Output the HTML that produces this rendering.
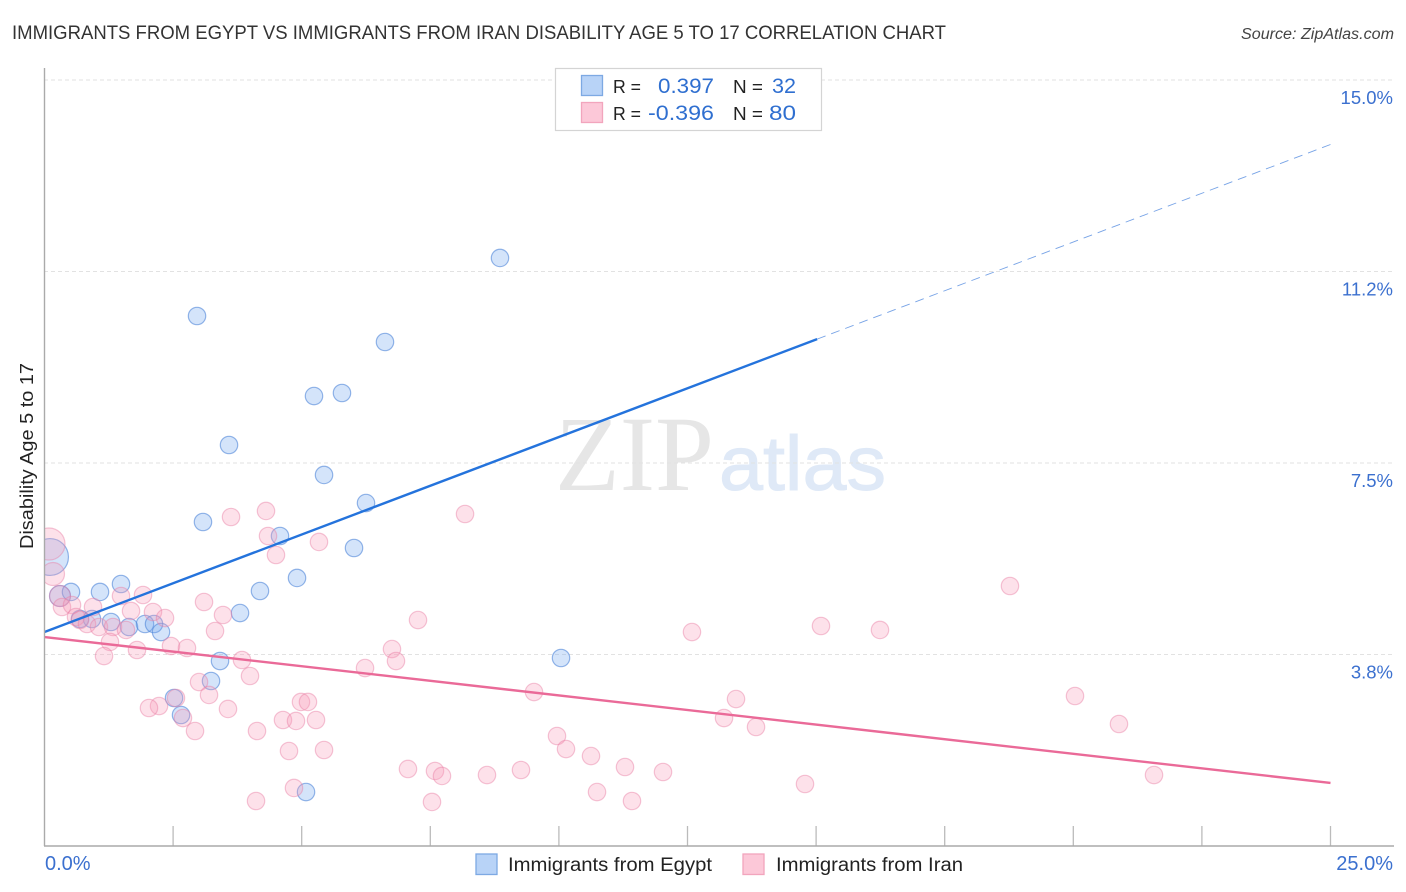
<!DOCTYPE html>
<html>
<head>
<meta charset="utf-8">
<title>Immigrants from Egypt vs Immigrants from Iran Disability Age 5 to 17 Correlation Chart</title>
<style>
html,body{margin:0;padding:0;background:#fff;width:1406px;height:892px;overflow:hidden}
svg{display:block}
text{font-family:"Liberation Sans",sans-serif}
</style>
</head>
<body>
<svg id="chart" xmlns="http://www.w3.org/2000/svg" width="1406" height="892" viewBox="0 0 1406 892">
  <defs><clipPath id="plot-clip"><rect x="44.5" y="60" width="1350" height="786"/></clipPath></defs>
  <rect x="0" y="0" width="1406" height="892" fill="#fff"/>
  <text x="12" y="39" font-size="19" fill="#333" textLength="934" lengthAdjust="spacingAndGlyphs">IMMIGRANTS FROM EGYPT VS IMMIGRANTS FROM IRAN DISABILITY AGE 5 TO 17 CORRELATION CHART</text>
  <text x="1241" y="39" font-size="15.5" font-style="italic" fill="#444" textLength="153" lengthAdjust="spacingAndGlyphs">Source: ZipAtlas.com</text>
  <text x="555" y="490" font-size="107" fill="#e6e6e6" style="font-family:'Liberation Serif',serif" textLength="159" lengthAdjust="spacingAndGlyphs">ZIP</text>
  <text x="719" y="490" font-size="77" fill="#dfe9f7" stroke="#dfe9f7" stroke-width="1" textLength="167" lengthAdjust="spacingAndGlyphs">atlas</text>
  <g id="grid"></g>
  <g id="ticks"></g>
  <g id="pts" clip-path="url(#plot-clip)"></g>
  <rect x="0" y="500" width="44" height="120" fill="#fff"/>
  <g id="trends"></g>
  <line x1="44.5" y1="68" x2="44.5" y2="846" stroke="#aaa" stroke-width="1.4"/>
  <line x1="44" y1="846" x2="1394" y2="846" stroke="#aaa" stroke-width="1.4"/>
  <g id="ylabels"></g>
  <g id="xlabels"></g>
  <text transform="translate(33,456) rotate(-90)" font-size="18.5" fill="#222" text-anchor="middle" textLength="186" lengthAdjust="spacingAndGlyphs">Disability Age 5 to 17</text>

  <g>
    <rect x="555.5" y="68.5" width="266" height="62" fill="#fff" stroke="#d4d4d4" stroke-width="1.2"/>
    <rect x="581.5" y="75.5" width="21" height="20" fill="#b8d3f7" stroke="#7da9e3" stroke-width="1.3"/>
    <rect x="581.5" y="102.5" width="21" height="20" fill="#fcc8d8" stroke="#f2a5bd" stroke-width="1.3"/>
    <text x="613" y="93" font-size="18.5" fill="#222" textLength="28" lengthAdjust="spacingAndGlyphs">R =</text>
    <text x="658" y="93" font-size="21" fill="#2f6fd0" textLength="56" lengthAdjust="spacingAndGlyphs">0.397</text>
    <text x="733" y="93" font-size="18.5" fill="#222" textLength="30" lengthAdjust="spacingAndGlyphs">N =</text>
    <text x="772" y="93" font-size="21" fill="#2f6fd0" textLength="24" lengthAdjust="spacingAndGlyphs">32</text>
    <text x="613" y="120" font-size="18.5" fill="#222" textLength="28" lengthAdjust="spacingAndGlyphs">R =</text>
    <text x="648" y="120" font-size="21" fill="#2f6fd0" textLength="66" lengthAdjust="spacingAndGlyphs">-0.396</text>
    <text x="733" y="120" font-size="18.5" fill="#222" textLength="30" lengthAdjust="spacingAndGlyphs">N =</text>
    <text x="769" y="120" font-size="21" fill="#2f6fd0" textLength="27" lengthAdjust="spacingAndGlyphs">80</text>
  </g>

  <g>
    <rect x="476" y="854" width="21" height="20.5" fill="#b8d3f7" stroke="#7da9e3" stroke-width="1.3"/>
    <text x="508" y="871" font-size="19" fill="#222" textLength="204" lengthAdjust="spacingAndGlyphs">Immigrants from Egypt</text>
    <rect x="743" y="854" width="21" height="20.5" fill="#fcc8d8" stroke="#f2a5bd" stroke-width="1.3"/>
    <text x="776" y="871" font-size="19" fill="#222" textLength="187" lengthAdjust="spacingAndGlyphs">Immigrants from Iran</text>
  </g>
</svg>
<script>
var egyptX=[0.107,0.301,0.515,1.079,1.487,0.690,0.923,1.293,1.643,1.954,2.129,2.265,3.081,4.578,2.965,8.855,6.619,5.239,5.783,3.587,5.434,6.250,6.017,4.909,4.189,3.801,3.412,3.237,2.518,2.654,10.041,5.084];
var egyptY=[5.659,4.895,4.974,4.974,5.130,4.445,4.445,4.386,4.288,4.347,4.347,4.190,6.344,6.070,10.378,11.514,9.869,8.811,8.870,7.852,7.265,6.716,5.835,5.248,4.993,4.562,3.622,3.231,2.898,2.565,3.681,1.057];
var egyptWeight=[4.5,1.45,1,1,1,1,1,1,1,1,1,1,1,1,1,1,1,1,1,1,1,1,1,1,1,1,1,1,1,1,1,1];
var iranX=[0.087,0.165,0.301,0.340,0.535,0.612,0.690,0.826,0.943,1.059,1.332,1.487,1.682,1.584,1.273,1.157,1.798,1.915,2.109,2.343,2.459,2.770,3.101,3.470,3.315,3.626,4.306,4.345,4.500,3.839,3.995,3.004,3.198,2.556,2.226,2.031,3.567,2.692,2.926,4.131,4.636,4.889,4.986,4.753,5.122,5.278,5.434,5.336,4.112,4.850,6.231,6.755,6.833,7.261,8.175,9.516,7.066,7.591,7.727,7.533,8.602,9.263,9.963,10.138,10.624,10.741,11.285,11.421,12.024,12.587,13.443,13.210,13.832,14.784,15.095,16.242,18.769,20.033,20.888,21.569];
var iranY=[5.913,5.326,4.895,4.680,4.719,4.484,4.425,4.347,4.680,4.288,4.288,4.895,4.602,4.230,3.995,3.720,3.838,4.915,4.582,4.464,3.916,3.877,4.778,4.523,4.210,6.442,6.560,6.070,5.698,3.642,3.329,3.211,2.957,2.898,2.741,2.702,2.683,2.506,2.252,2.252,2.467,2.448,2.820,1.860,2.820,2.467,1.880,5.953,0.881,1.136,3.485,3.857,3.622,4.425,6.501,3.015,1.508,1.469,1.371,0.862,1.390,1.488,2.154,1.899,1.762,1.057,1.547,0.881,1.449,4.190,2.878,2.506,2.330,1.214,4.308,4.230,5.091,2.937,2.389,1.390];
var iranWeight=[3.4,1.75,1.45,1,1,1,1,1,1,1,1,1,1,1,1,1,1,1,1,1,1,1,1,1,1,1,1,1,1,1,1,1,1,1,1,1,1,1,1,1,1,1,1,1,1,1,1,1,1,1,1,1,1,1,1,1,1,1,1,1,1,1,1,1,1,1,1,1,1,1,1,1,1,1,1,1,1,1,1,1];
var yTickValues=[15,11.25,7.5,3.75];
var yTickLabels=["15.0%","11.2%","7.5%","3.8%"];
var xTickValues=[2.5,5,7.5,10,12.5,15,17.5,20,22.5,25];
var xEndValues=[0,25];
var xEndLabels=["0.0%","25.0%"];
var egyptTrendStart=4.190;
var egyptTrendEnd=13.736;
var egyptTrendSolidUntil=15.02;
var iranTrendStart=4.092;
var iranTrendEnd=1.234;

var NS="http://www.w3.org/2000/svg";
function xScale(v){return 44.5+v*51.44;}
function yScale(v){return 846-v*51.07;}
function radius(w){return 8.7*Math.sqrt(w);}
function make(tag,parentId,attrs){
  var el=document.createElementNS(NS,tag);
  for(var k in attrs){el.setAttribute(k,attrs[k]);}
  document.getElementById(parentId).appendChild(el);
  return el;
}
function lerp(a,b,t){return a+(b-a)*t;}

yTickValues.forEach(function(v,i){
  var g=make("line","grid",{x1:44,x2:1394,y1:yScale(v),y2:yScale(v),stroke:"#e2e2e2","stroke-width":1,"stroke-dasharray":"4 3"});
  
  
  var t=make("text","ylabels",{x:1393,y:yScale(v)+24,"font-size":18.5,fill:"#3b70cf","text-anchor":"end"});
  
  
  t.textContent=yTickLabels[i];
});

xTickValues.forEach(function(v){
  var l=make("line","ticks",{x1:xScale(v),x2:xScale(v),y1:826,y2:846,stroke:"#bbb","stroke-width":1.3});
  
  
});

xEndValues.forEach(function(v,i){
  var t=make("text","xlabels",{x:i===0?45:1393,y:870,"font-size":20,fill:"#3b70cf","text-anchor":i===0?"start":"end"});
  
  
  t.textContent=xEndLabels[i];
});

egyptX.forEach(function(v,i){
  var c=make("circle","pts",{cx:xScale(v),cy:yScale(egyptY[i]),r:radius(egyptWeight[i]),fill:"#6fa6ee","fill-opacity":0.3,stroke:"#4f86d8","stroke-opacity":0.6,"stroke-width":1.2});
  
  
});
iranX.forEach(function(v,i){
  var c=make("circle","pts",{cx:xScale(v),cy:yScale(iranY[i]),r:radius(iranWeight[i]),fill:"#f79dba","fill-opacity":0.3,stroke:"#e97fa3","stroke-opacity":0.45,"stroke-width":1.2});
  
  
});

var splitY=lerp(egyptTrendStart,egyptTrendEnd,egyptTrendSolidUntil/25);
var dash=make("line","trends",{x1:xScale(egyptTrendSolidUntil),y1:yScale(splitY),x2:xScale(25),y2:yScale(egyptTrendEnd),stroke:"#2e72d8","stroke-width":0.9,"stroke-opacity":0.65,"stroke-dasharray":"9 6"});


var solid=make("line","trends",{x1:xScale(0),y1:yScale(egyptTrendStart),x2:xScale(egyptTrendSolidUntil),y2:yScale(splitY),stroke:"#2473dc","stroke-width":2.4});


var pink=make("line","trends",{x1:xScale(0),y1:yScale(iranTrendStart),x2:xScale(25),y2:yScale(iranTrendEnd),stroke:"#ea6a98","stroke-width":2.4});


</script>
</body>
</html>
